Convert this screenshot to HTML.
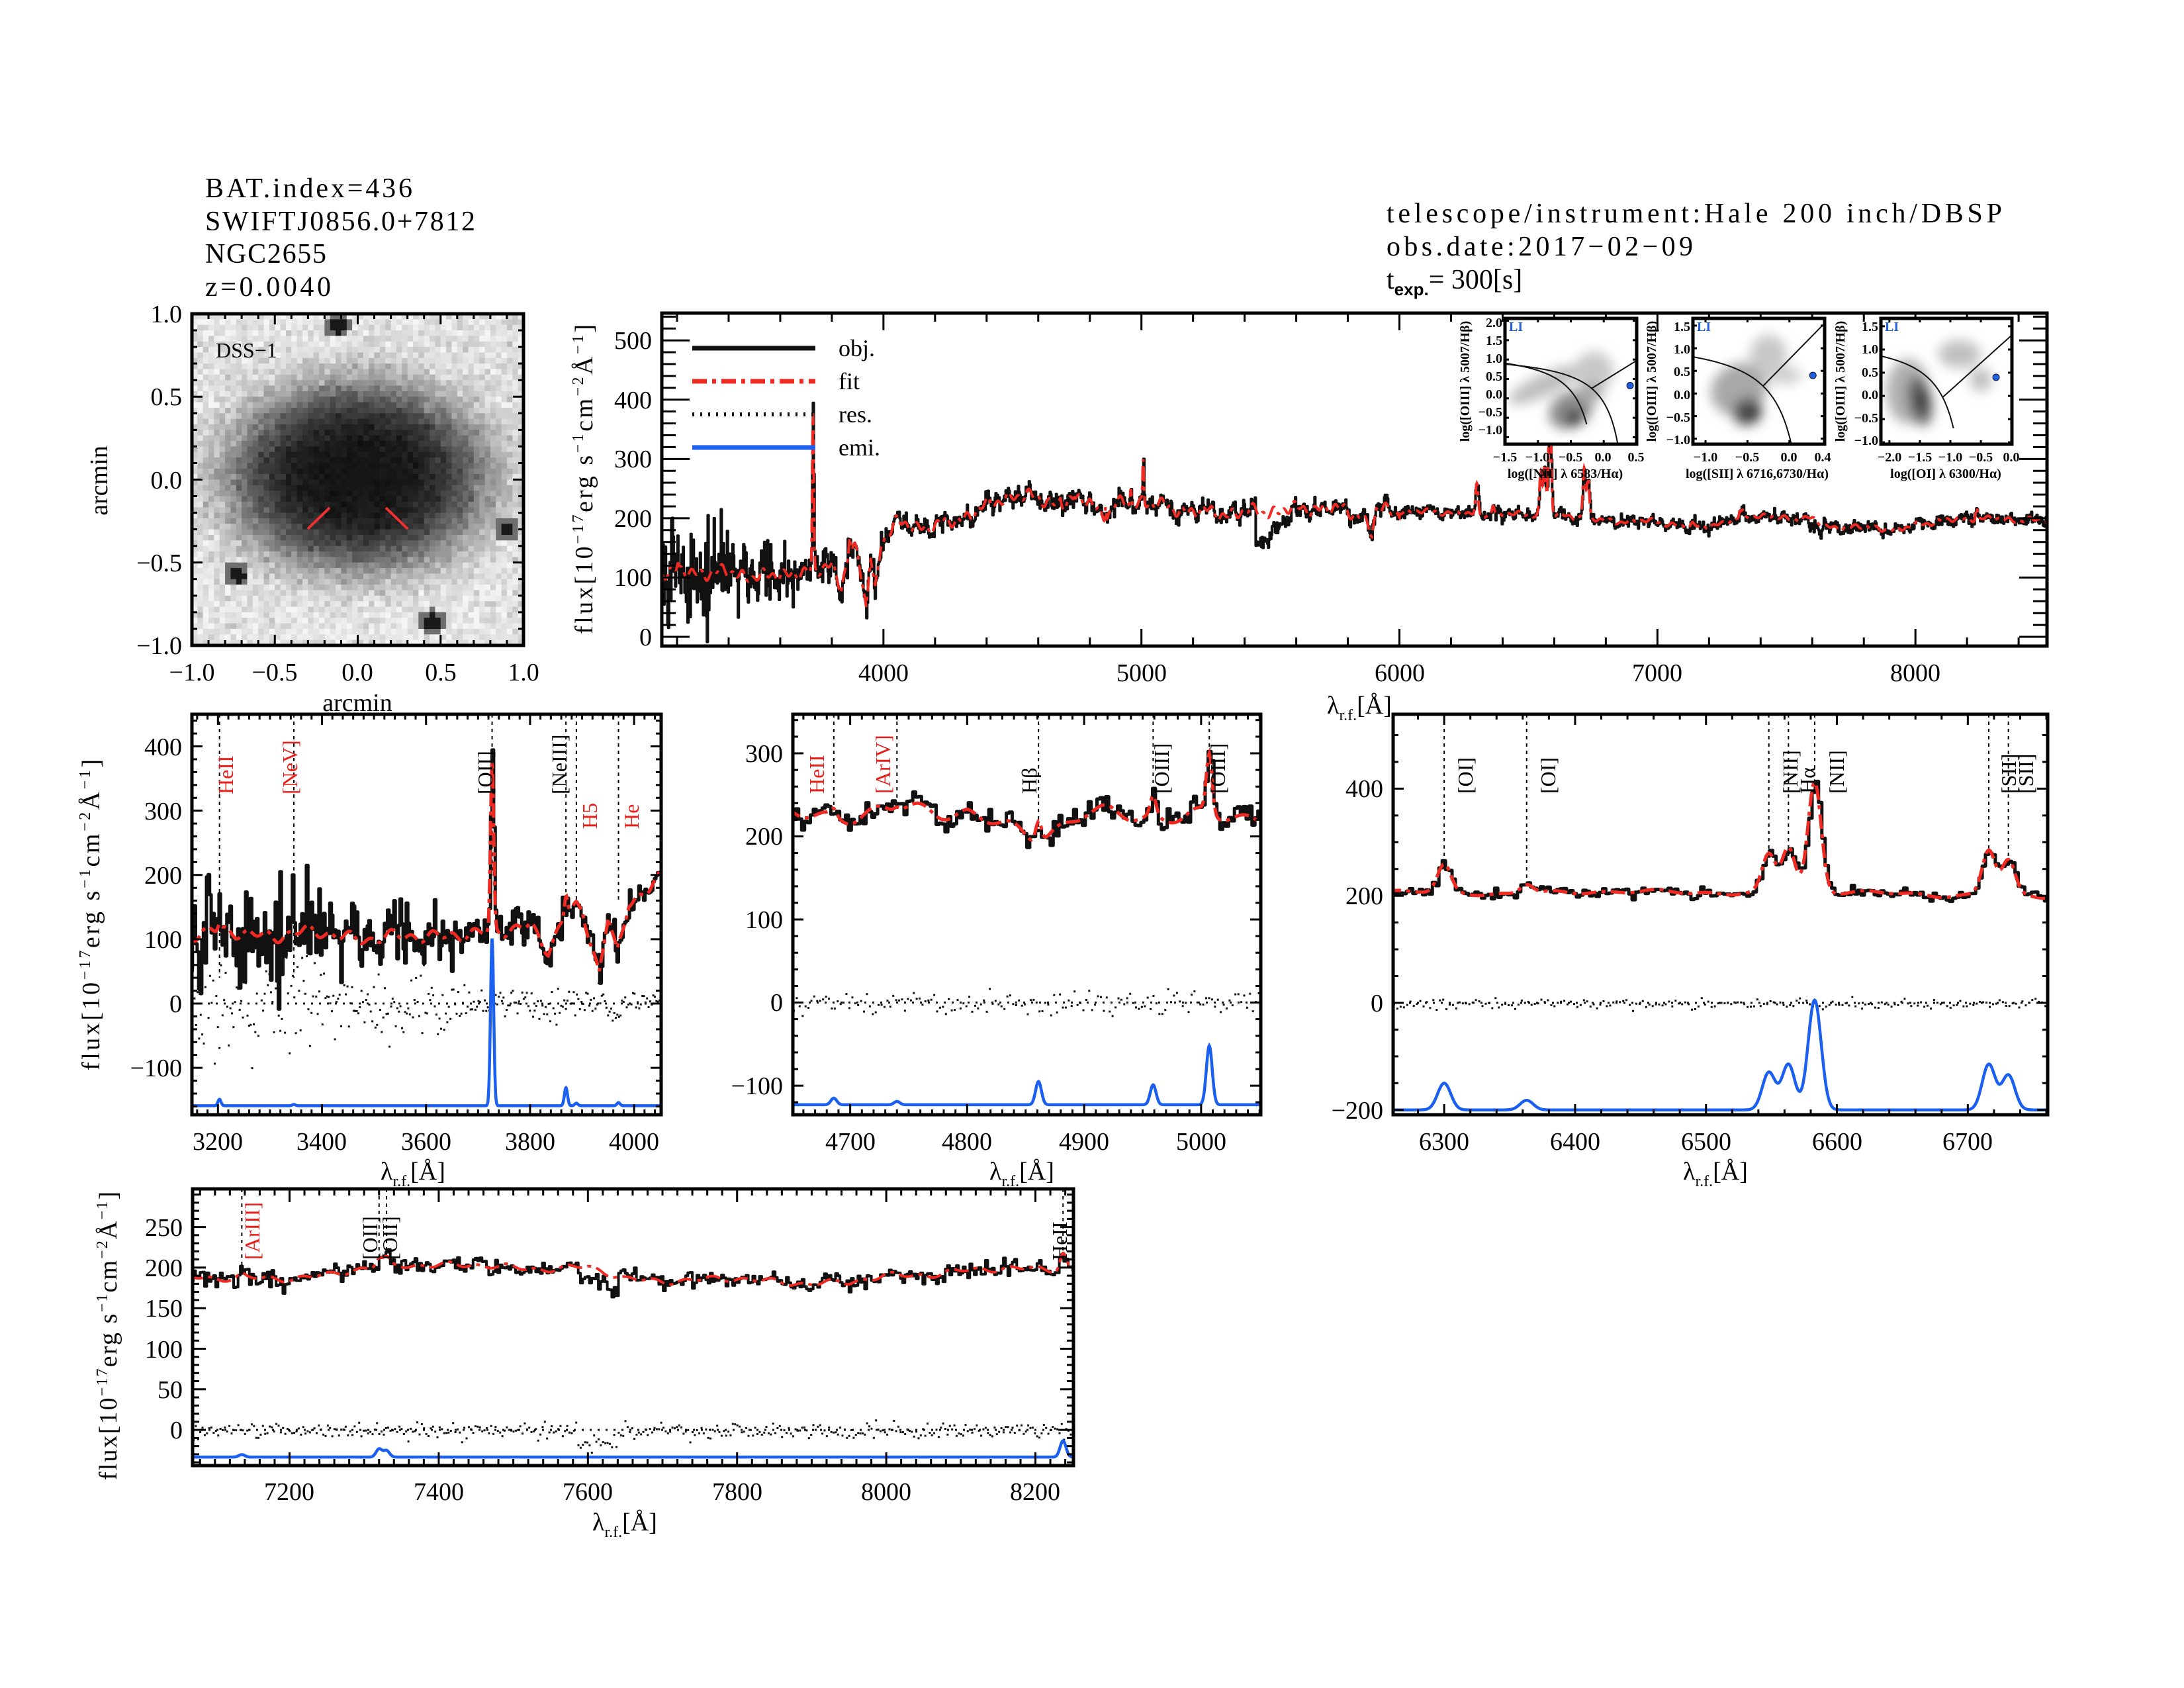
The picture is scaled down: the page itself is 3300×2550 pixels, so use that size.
<!DOCTYPE html>
<html><head><meta charset="utf-8"><style>
html,body{margin:0;padding:0;background:#fff;}
svg{display:block;}
text{font-family:"Liberation Serif",serif;}
.t{font-size:38px;fill:#000;}
.h{font-size:42px;fill:#000;}
.ins{font-family:"Liberation Sans",sans-serif;font-weight:bold;font-size:20px;}
</style></head><body>
<svg id="s" xmlns="http://www.w3.org/2000/svg" width="3300" height="2550" viewBox="0 0 3300 2550">
<defs>
<filter id="bl" x="-50%" y="-50%" width="200%" height="200%"><feGaussianBlur stdDeviation="9"/></filter>
<clipPath id="cm"><rect x="1000" y="473" width="2093" height="503"/></clipPath>
<clipPath id="c1"><rect x="290" y="1079" width="709" height="605"/></clipPath>
<clipPath id="c2"><rect x="1198" y="1079" width="707" height="605"/></clipPath>
<clipPath id="c3"><rect x="2105" y="1079" width="989" height="605"/></clipPath>
<clipPath id="c4"><rect x="291" y="1796" width="1331" height="418"/></clipPath>
<clipPath id="cd"><rect x="290" y="474" width="501" height="501"/></clipPath>
<clipPath id="b1"><rect x="2274" y="481" width="199" height="190"/></clipPath>
<clipPath id="b2"><rect x="2558" y="481" width="199" height="190"/></clipPath>
<clipPath id="b3"><rect x="2842" y="481" width="198" height="190"/></clipPath>
</defs>
<g id="layer"></g>

<text class="h" x="310" y="298" textLength="313">BAT.index=436</text>
<text class="h" x="310" y="348" textLength="408">SWIFTJ0856.0+7812</text>
<text class="h" x="310" y="397" textLength="183">NGC2655</text>
<text class="h" x="310" y="447" textLength="190">z=0.0040</text>
<text class="h" x="2095" y="336" textLength="930">telescope/instrument:Hale 200 inch/DBSP</text>
<text class="h" x="2095" y="386" textLength="463">obs.date:2017−02−09</text>
<text class="h" x="2095" y="436">t<tspan font-size="26" dy="10" font-family="Liberation Sans" font-weight="bold">exp.</tspan><tspan dy="-10">= 300[s]</tspan></text>

<text x="326" y="540" font-size="32">DSS−1</text>
<g class="t" text-anchor="end">
<text x="275" y="487">1.0</text><text x="275" y="612">0.5</text><text x="275" y="738">0.0</text><text x="275" y="863">−0.5</text><text x="275" y="988">−1.0</text>
</g>
<g class="t" text-anchor="middle">
<text x="290" y="1028">−1.0</text><text x="415" y="1028">−0.5</text><text x="540" y="1028">0.0</text><text x="666" y="1028">0.5</text><text x="791" y="1028">1.0</text>
<text x="540" y="1074">arcmin</text>
</g>
<text class="t" text-anchor="middle" transform="translate(162,726) rotate(-90)">arcmin</text>

<g class="t" text-anchor="end">
<text x="985" y="975">0</text><text x="985" y="885">100</text><text x="985" y="796">200</text><text x="985" y="706">300</text><text x="985" y="617">400</text><text x="985" y="527">500</text>
</g>
<g class="t" text-anchor="middle">
<text x="1335" y="1029">4000</text><text x="1725" y="1029">5000</text><text x="2115" y="1029">6000</text><text x="2504" y="1029">7000</text><text x="2894" y="1029">8000</text>
</g>
<text class="t" x="2005" y="1078">λ<tspan font-size="24" dy="10">r.f.</tspan><tspan dy="-10">[Å]</tspan></text>
<text class="t" font-size="36" transform="translate(895,958) rotate(-90)" textLength="468">flux[10<tspan font-size="24" dy="-14">−17</tspan><tspan dy="14">erg s</tspan><tspan font-size="24" dy="-14">−1</tspan><tspan dy="14">cm</tspan><tspan font-size="24" dy="-14">−2</tspan><tspan dy="14">Å</tspan><tspan font-size="24" dy="-14">−1</tspan><tspan dy="14">]</tspan></text>
<g font-size="36">
<text x="1267" y="538">obj.</text><text x="1267" y="588">fit</text><text x="1267" y="638">res.</text><text x="1267" y="688">emi.</text>
</g>

<g class="t" text-anchor="end">
<text x="275" y="1626">−100</text><text x="275" y="1529">0</text><text x="275" y="1432">100</text><text x="275" y="1335">200</text><text x="275" y="1238">300</text><text x="275" y="1141">400</text>
</g>
<g class="t" text-anchor="middle">
<text x="329" y="1737">3200</text><text x="486" y="1737">3400</text><text x="644" y="1737">3600</text><text x="801" y="1737">3800</text><text x="958" y="1737">4000</text>
</g>
<text class="t" x="575" y="1782">λ<tspan font-size="24" dy="10">r.f.</tspan><tspan dy="-10">[Å]</tspan></text>
<text class="t" font-size="36" transform="translate(150,1617) rotate(-90)" textLength="470">flux[10<tspan font-size="24" dy="-14">−17</tspan><tspan dy="14">erg s</tspan><tspan font-size="24" dy="-14">−1</tspan><tspan dy="14">cm</tspan><tspan font-size="24" dy="-14">−2</tspan><tspan dy="14">Å</tspan><tspan font-size="24" dy="-14">−1</tspan><tspan dy="14">]</tspan></text>

<g class="t" text-anchor="end">
<text x="1183" y="1653">−100</text><text x="1183" y="1527">0</text><text x="1183" y="1402">100</text><text x="1183" y="1276">200</text><text x="1183" y="1151">300</text>
</g>
<g class="t" text-anchor="middle">
<text x="1285" y="1737">4700</text><text x="1461" y="1737">4800</text><text x="1638" y="1737">4900</text><text x="1815" y="1737">5000</text>
</g>
<text class="t" x="1495" y="1782">λ<tspan font-size="24" dy="10">r.f.</tspan><tspan dy="-10">[Å]</tspan></text>

<g class="t" text-anchor="end">
<text x="2090" y="1690">−200</text><text x="2090" y="1528">0</text><text x="2090" y="1366">200</text><text x="2090" y="1204">400</text>
</g>
<g class="t" text-anchor="middle">
<text x="2182" y="1737">6300</text><text x="2380" y="1737">6400</text><text x="2578" y="1737">6500</text><text x="2776" y="1737">6600</text><text x="2973" y="1737">6700</text>
</g>
<text class="t" x="2543" y="1782">λ<tspan font-size="24" dy="10">r.f.</tspan><tspan dy="-10">[Å]</tspan></text>

<g class="t" text-anchor="end">
<text x="276" y="2173">0</text><text x="276" y="2112">50</text><text x="276" y="2051">100</text><text x="276" y="1989">150</text><text x="276" y="1928">200</text><text x="276" y="1867">250</text>
</g>
<g class="t" text-anchor="middle">
<text x="437" y="2266">7200</text><text x="663" y="2266">7400</text><text x="888" y="2266">7600</text><text x="1114" y="2266">7800</text><text x="1339" y="2266">8000</text><text x="1564" y="2266">8200</text>
</g>
<text class="t" x="895" y="2312">λ<tspan font-size="24" dy="10">r.f.</tspan><tspan dy="-10">[Å]</tspan></text>
<text class="t" font-size="36" transform="translate(176,2236) rotate(-90)" textLength="436">flux[10<tspan font-size="24" dy="-14">−17</tspan><tspan dy="14">erg s</tspan><tspan font-size="24" dy="-14">−1</tspan><tspan dy="14">cm</tspan><tspan font-size="24" dy="-14">−2</tspan><tspan dy="14">Å</tspan><tspan font-size="24" dy="-14">−1</tspan><tspan dy="14">]</tspan></text>

<g font-size="32">
<text fill="#e8201c" transform="translate(352,1200) rotate(-90)">HeII</text>
<text fill="#e8201c" transform="translate(449,1200) rotate(-90)">[NeV]</text>
<text fill="#000" transform="translate(744,1200) rotate(-90)">[OII]</text>
<text fill="#000" transform="translate(856,1200) rotate(-90)">[NeIII]</text>
<text fill="#e8201c" transform="translate(902,1252) rotate(-90)">H5</text>
<text fill="#e8201c" transform="translate(965,1252) rotate(-90)">He</text>

<text fill="#e8201c" transform="translate(1245,1199) rotate(-90)">HeII</text>
<text fill="#e8201c" transform="translate(1345,1199) rotate(-90)">[ArIV]</text>
<text fill="#000" transform="translate(1566,1199) rotate(-90)">Hβ</text>
<text fill="#000" transform="translate(1766,1199) rotate(-90)">[OIII]</text>
<text fill="#000" transform="translate(1851,1199) rotate(-90)">[OIII]</text>

<text fill="#000" transform="translate(2225,1199) rotate(-90)">[OI]</text>
<text fill="#000" transform="translate(2350,1199) rotate(-90)">[OI]</text>
<text fill="#000" transform="translate(2716,1199) rotate(-90)">[NII]</text>
<text fill="#000" transform="translate(2742,1199) rotate(-90)">Hα</text>
<text fill="#000" transform="translate(2786,1199) rotate(-90)">[NII]</text>
<text fill="#000" transform="translate(3046,1199) rotate(-90)">[SII]</text>
<text fill="#000" transform="translate(3072,1199) rotate(-90)">[SII]</text>

<text fill="#e8201c" transform="translate(392,1903) rotate(-90)">[ArIII]</text>
<text fill="#000" transform="translate(570,1903) rotate(-90)">[OII]</text>
<text fill="#000" transform="translate(600,1903) rotate(-90)">[OII]</text>
<text fill="#000" transform="translate(1612,1904) rotate(-90)">HeII</text>
</g>

<g class="ins" text-anchor="end">
<text x="2270" y="494">2.0</text><text x="2270" y="521">1.5</text><text x="2270" y="548">1.0</text><text x="2270" y="575">0.5</text><text x="2270" y="602">0.0</text><text x="2270" y="629">−0.5</text><text x="2270" y="656">−1.0</text>
<text x="2554" y="500">1.5</text><text x="2554" y="534">1.0</text><text x="2554" y="568">0.5</text><text x="2554" y="603">0.0</text><text x="2554" y="637">−0.5</text><text x="2554" y="671">−1.0</text>
<text x="2838" y="500">1.5</text><text x="2838" y="534">1.0</text><text x="2838" y="569">0.5</text><text x="2838" y="603">0.0</text><text x="2838" y="638">−0.5</text><text x="2838" y="672">−1.0</text>
</g>
<g class="ins" text-anchor="middle">
<text x="2274" y="697">−1.5</text><text x="2323" y="697">−1.0</text><text x="2373" y="697">−0.5</text><text x="2422" y="697">0.0</text><text x="2472" y="697">0.5</text>
<text x="2577" y="697">−1.0</text><text x="2640" y="697">−0.5</text><text x="2703" y="697">0.0</text><text x="2754" y="697">0.4</text>
<text x="2855" y="697">−2.0</text><text x="2901" y="697">−1.5</text><text x="2947" y="697">−1.0</text><text x="2993" y="697">−0.5</text><text x="3039" y="697">0.0</text>
<text x="2365" y="722">log([NII] λ 6583/Hα)</text>
<text x="2655" y="722">log([SII] λ 6716,6730/Hα)</text>
<text x="2940" y="722">log([OI] λ 6300/Hα)</text>
</g>
<g class="ins" font-size="17" text-anchor="middle">
<text transform="translate(2220,576) rotate(-90)">log([OIII] λ 5007/Hβ)</text>
<text transform="translate(2502,576) rotate(-90)">log([OIII] λ 5007/Hβ)</text>
<text transform="translate(2787,576) rotate(-90)">log([OIII] λ 5007/Hβ)</text>
</g>
<g class="ins" fill="#1f5fe0" font-size="18">
<text x="2280" y="500">LI</text><text x="2564" y="500">LI</text><text x="2848" y="500">LI</text>
</g>
</svg>
<script>
(function(){
var NS='http://www.w3.org/2000/svg';
var L=document.getElementById('layer');
function el(tag,a,p){var e=document.createElementNS(NS,tag);for(var k in a)e.setAttribute(k,a[k]);(p||L).appendChild(e);return e;}
function h(i){var x=Math.sin(i*12.9898+78.233)*43758.5453;return x-Math.floor(x);}
function gn(i){return (h(i)+h(i+0.37)+h(i+0.71)+h(i+0.13)-2)*1.7;}

var g=el('g',{'clip-path':'url(#cd)'});
var N=60,cs=501/N,stars=[[-0.12,0.93],[0.45,-0.86],[-0.73,-0.57],[0.9,-0.3]];
for(var i=0;i<N;i++)for(var j=0;j<N;j++){
 var ax=-1+(i+0.5)*2/N, ay=1-(j+0.5)*2/N;
 var r=Math.sqrt(Math.pow(ax/0.8,2)+Math.pow((ay-0.02)/0.58,2));
 var v=22+205*(1-Math.exp(-Math.pow(r,4)))+gn(i*77+j*13)*14*Math.min(1,r);
 stars.forEach(function(s){var d=Math.hypot(ax-s[0],ay-s[1]);if(d<0.05)v=25;else if(d<0.08)v=Math.min(v,110);});
 v=Math.max(10,Math.min(245,Math.round(v)));
 el('rect',{x:(290+i*cs).toFixed(2),y:(474+j*cs).toFixed(2),width:(cs+0.6).toFixed(2),height:(cs+0.6).toFixed(2),fill:'rgb('+v+','+v+','+v+')'},g);
}
el('line',{x1:465,y1:799,x2:498,y2:767,stroke:'#f03030','stroke-width':4});
el('line',{x1:583,y1:767,x2:616,y2:799,stroke:'#f03030','stroke-width':4});

var A=[[3100,110],[3400,108],[3550,100],[3650,110],[3720,105],[3800,125],[3835,85],[3870,140],[3900,140],[3933,50],[3950,140],[3968,75],[3990,160],[4050,190],[4200,185],[4300,200],[4400,220],[4500,240],[4600,232],[4700,225],[4800,232],[4860,200],[4900,222],[5000,228],[5100,218],[5200,212],[5300,208],[5500,212],[5700,218],[5850,208],[5893,175],[5910,212],[6000,212],[6200,210],[6300,205],[6500,207],[6620,205],[6700,202],[6800,195],[7000,195],[7100,185],[7250,190],[7350,205],[7500,200],[7600,200],[7650,185],[7800,185],[7950,180],[8000,190],[8200,200],[8600,195]];
function cont(l){for(var k=0;k<A.length-1;k++){if(l<=A[k+1][0]){var t=(l-A[k][0])/(A[k+1][0]-A[k][0]);return A[k][1]+t*(A[k+1][1]-A[k][1]);}}return 195;}
function wig(l){var a=l>6000?0.4:1;return a*(7*Math.sin(l/6.3)+6*Math.sin(l/13.7+1)+5*Math.sin(l/27+2));}
var E=[[3203,10,3],[3346,2,3],[3727,260,3],[3869,28,3],[3889,4,3],[3970,5,3],[4686,8,2.5],[4740,4,2.5],[4861,28,2.5],[4959,24,2.5],[5007,71,2.5],[6300,50,5],[6363,18,5],[6548,70,5],[6563,85,5],[6583,205,5],[6716,85,5],[6731,65,5],[7136,3,4],[7320,10,4],[7330,8,4],[8237,20,4]];
function emi(l){var s=0;E.forEach(function(e){var d=(l-e[0])/e[2];if(Math.abs(d)<6)s+=e[1]*Math.exp(-0.5*d*d);});return s;}
function sig(l){return l<3400?45:l<3650?25:l<4000?14:l<6000?7:5;}
function objx(l){var x=0;if(l>5440&&l<5620)x=-55*Math.max(0,1-(l-5445)/175);if(l>7585&&l<7640)x=-15;return x;}
function obj(l){return cont(l)+wig(l)+emi(l)+gn(l*1.37)*sig(l)+objx(l);}
function fit(l){return cont(l)+wig(l)*0.85+emi(l);}

function panel(p){
 var sx=(p.x1-p.x0)/(p.xmax-p.xmin), sy=(p.y1-p.y0)/(p.ymax-p.ymin);
 function X(l){return p.x0+(l-p.xmin)*sx;} function Y(v){return p.y1-(v-p.ymin)*sy;}
 var g=el('g',{'clip-path':'url(#'+p.clip+')'});
 (p.marks||[]).forEach(function(m){el('line',{x1:X(m[0]),x2:X(m[0]),y1:p.y0,y2:Y(m[1]),stroke:'#000','stroke-width':2,'stroke-dasharray':'5,6'},g);});
 var st=p.step, d='', df='', de='', l;
 for(l=p.xmin-5;l<=p.xmax+5;l+=st){var x=X(l),y=Y(obj(l));d+=(d?'H'+x.toFixed(1)+'V':'M'+x.toFixed(1)+' ')+y.toFixed(1);}
 for(l=p.xmin-5;l<=p.xmax+5;l+=1){var x2=X(l);df+=(df?'L':'M')+x2.toFixed(1)+' '+Y(fit(l)).toFixed(1);}
 el('path',{d:d,fill:'none',stroke:'#111','stroke-width':p.lw,'stroke-linejoin':'round'},g);
 if(p.res){var rs='';for(l=p.xmin;l<=p.xmax;l+=st){var r=obj(l)-fit(l)-wig(l)*0.15;rs+='M'+X(l).toFixed(1)+' '+Y(r).toFixed(1)+'h3v3h-3z';}el('path',{d:rs,fill:'#111'},g);
  el('line',{x1:p.x0,x2:p.x1,y1:Y(0),y2:Y(0),stroke:'#111','stroke-width':3,'stroke-dasharray':'3,9'},g);}
 el('path',{d:df,fill:'none',stroke:'#ee2a22','stroke-width':p.lw,'stroke-dasharray':'22,8,6,8'},g);
 if(p.base!==undefined){for(l=p.xmin-5;l<=p.xmax+5;l+=0.5){de+=(de?'L':'M')+X(l).toFixed(1)+' '+Y(p.base+emi(l)).toFixed(1);}
  el('path',{d:de,fill:'none',stroke:'#1a5ff0','stroke-width':4.5},g);}
 axes(p,X,Y);
}
function axes(p,X,Y){
 var t='';
 function tk(vmin,vmax,step,maj,len1,len2,isX){var n0=Math.ceil(vmin/step-1e-9),n1=Math.floor(vmax/step+1e-9);
  for(var n=n0;n<=n1;n++){var v=n*step;var M=Math.abs(v/maj-Math.round(v/maj))<1e-6;var ln=M?len1:len2;
   if(isX){var x=X(v);t+='M'+x+' '+p.y1+'v'+(-ln)+'M'+x+' '+p.y0+'v'+ln;}
   else{var y=Y(v);t+='M'+p.x0+' '+y+'h'+ln+'M'+p.x1+' '+y+'h'+(-ln);}}}
 tk(p.xmin,p.xmax,p.xmi,p.xma,p.tl,p.tl/2,true);
 tk(p.ymin,p.ymax,p.ymi,p.yma,p.tly||p.tl,(p.tly||p.tl)/2,false);
 el('path',{d:t,stroke:'#000','stroke-width':3,fill:'none'});
 el('rect',{x:p.x0,y:p.y0,width:p.x1-p.x0,height:p.y1-p.y0,fill:'none',stroke:'#000','stroke-width':5});
}
(function(){var p={x0:290,x1:791,y0:474,y1:975,xmin:-1,xmax:1,ymin:-1,ymax:1,xmi:0.1,xma:0.5,ymi:0.1,yma:0.5,tl:16};
 axes(p,function(v){return 290+(v+1)*250.5;},function(v){return 975-(v+1)*250.5;});})();

panel({clip:'cm',x0:1000,x1:3093,y0:473,y1:976,xmin:3141,xmax:8510,ymin:-15.6,ymax:546,step:3,lw:4,xmi:200,xma:1000,ymi:20,yma:100,tl:26,tly:42});
panel({clip:'c1',x0:290,x1:999,y0:1079,y1:1684,xmin:3150,xmax:4052,ymin:-173,ymax:450,step:3,lw:5,res:1,base:-159,xmi:20,xma:200,ymi:20,yma:100,tl:16,
 marks:[[3203,450],[3346,450],[3727,450],[3869,450],[3889,450],[3970,450]].map(function(m){return [m[0],m[0]<3400?40:(m[0]==3727?200:160)];})});
panel({clip:'c2',x0:1198,x1:1905,y0:1079,y1:1684,xmin:4651,xmax:5051,ymin:-135,ymax:347,step:2.5,lw:5,res:1,base:-123,xmi:10,xma:100,ymi:20,yma:100,tl:16,
 marks:[[4686,235],[4740,235],[4861,205],[4959,250],[5007,265]]});
panel({clip:'c3',x0:2105,x1:3094,y0:1079,y1:1684,xmin:6261,xmax:6761,ymin:-209,ymax:539,step:2.5,lw:5,res:1,base:-200,xmi:20,xma:100,ymi:50,yma:200,tl:16,
 marks:[[6300,260],[6363,225],[6548,280],[6563,270],[6583,420],[6716,280],[6731,270]]});
panel({clip:'c4',x0:291,x1:1622,y0:1796,y1:2214,xmin:7070,xmax:8251,ymin:-44,ymax:297,step:3,lw:4,res:1,base:-33.5,xmi:20,xma:200,ymi:10,yma:50,tl:20,
 marks:[[7136,190],[7320,210],[7330,210],[8237,210]]});

el('line',{x1:1046,x2:1232,y1:526,y2:526,stroke:'#111','stroke-width':7});
el('line',{x1:1046,x2:1232,y1:576,y2:576,stroke:'#ee2a22','stroke-width':7,'stroke-dasharray':'22,8,6,8'});
el('line',{x1:1046,x2:1232,y1:626,y2:626,stroke:'#111','stroke-width':6,'stroke-dasharray':'3,9'});
el('line',{x1:1046,x2:1232,y1:676,y2:676,stroke:'#1a5ff0','stroke-width':7});

function inset(b){
 var sx=(b.x1-b.x0)/(b.xr[1]-b.xr[0]), sy=(b.y1-b.y0)/(b.yr[1]-b.yr[0]);
 function X(v){return b.x0+(v-b.xr[0])*sx;} function Y(v){return b.y1-(v-b.yr[0])*sy;}
 el('rect',{x:b.x0,y:b.y0,width:b.x1-b.x0,height:b.y1-b.y0,fill:'#fff'});
 var g=el('g',{'clip-path':'url(#'+b.clip+')'});
 var gg=el('g',{filter:'url(#bl)'},g);
 b.blobs.forEach(function(q){el('ellipse',{cx:X(q[0]),cy:Y(q[1]),rx:q[2]*sx,ry:q[3]*sy,fill:q[4],transform:'rotate('+q[5]+' '+X(q[0])+' '+Y(q[1])+')'},gg);});
 b.curves.forEach(function(c){var d='';for(var x=c[1];x<=c[2];x+=0.01){var y=c[0](x);if(y>b.yr[0]-0.5&&y<b.yr[1]+0.5)d+=(d?'L':'M')+X(x).toFixed(1)+' '+Y(y).toFixed(1);}el('path',{d:d,fill:'none',stroke:'#111','stroke-width':2},g);});
 el('circle',{cx:X(b.dot[0]),cy:Y(b.dot[1]),r:5,fill:'#1f5fe0',stroke:'#113','stroke-width':1});
 var p={x0:b.x0,x1:b.x1,y0:b.y0,y1:b.y1,xmin:b.xr[0],xmax:b.xr[1],ymin:b.yr[0],ymax:b.yr[1],xmi:0.5,xma:0.5,ymi:0.5,yma:0.5,tl:6};
 axes(p,X,Y);
}
inset({clip:'b1',x0:2274,x1:2473,y0:481,y1:671,xr:[-1.5,0.5],yr:[-1.18,2.06],dot:[0.4,0.33],
 blobs:[[-0.9,0.35,0.6,0.28,'#bdbdbd',-25],[-0.5,-0.3,0.35,0.45,'#8a8a8a',-30],[-0.45,-0.5,0.13,0.2,'#333',-20],[-0.15,0.7,0.3,0.5,'#c8c8c8',0],[-0.2,0.15,0.2,0.25,'#aaa',0]],
 curves:[[function(x){return 0.61/(x-0.05)+1.3;},-1.6,-0.25],[function(x){return 0.61/(x-0.47)+1.19;},-1.6,0.22],[function(x){return 1.05*x+0.45;},-0.18,0.6]]});
inset({clip:'b2',x0:2558,x1:2757,y0:481,y1:671,xr:[-1.15,0.42],yr:[-1.12,1.66],dot:[0.28,0.4],
 blobs:[[-0.6,0.1,0.35,0.55,'#a8a8a8',-30],[-0.5,-0.4,0.18,0.3,'#555',-25],[-0.45,-0.45,0.08,0.12,'#222',-25],[-0.25,0.85,0.22,0.45,'#c8c8c8',0],[-0.05,0.4,0.2,0.2,'#d0d0d0',0]],
 curves:[[function(x){return 0.72/(x-0.32)+1.30;},-1.2,0.05],[function(x){return 1.89*x+0.76;},-0.31,0.5]]});
inset({clip:'b3',x0:2842,x1:3040,y0:481,y1:671,xr:[-2.14,0.01],yr:[-1.04,1.67],dot:[-0.25,0.4],
 blobs:[[-1.7,0.1,0.35,0.7,'#b0b0b0',0],[-1.5,-0.1,0.2,0.55,'#666',-10],[-1.48,-0.1,0.08,0.25,'#222',-10],[-0.85,0.9,0.35,0.3,'#c0c0c0',0],[-0.5,0.35,0.18,0.25,'#bdbdbd',0]],
 curves:[[function(x){return 0.73/(x+0.59)+1.33;},-2.2,-0.95],[function(x){return 1.18*x+1.30;},-1.13,0.1]]});
})();
</script>
</body></html>
